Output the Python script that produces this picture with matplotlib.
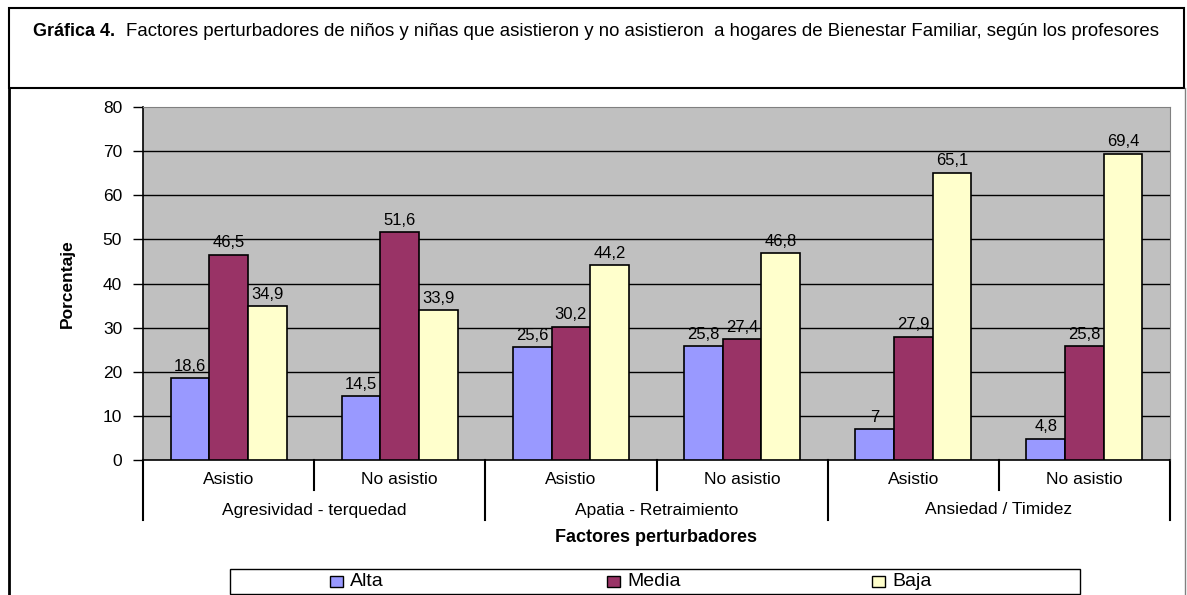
import matplotlib.pyplot as plt
from matplotlib.patches import Rectangle
from matplotlib.lines import Line2D

plt.rcParams['font.family'] = ['Liberation Sans', 'DejaVu Sans']

# data
groups = ['Agresividad - terquedad', 'Apatia - Retraimiento', 'Ansiedad / Timidez']
subcats = ['Asistio', 'No asistio', 'Asistio', 'No asistio', 'Asistio', 'No asistio']
series = ['Alta', 'Media', 'Baja']
alta = [18.6, 14.5, 25.6, 25.8, 7, 4.8]
media = [46.5, 51.6, 30.2, 27.4, 27.9, 25.8]
baja = [34.9, 33.9, 44.2, 46.8, 65.1, 69.4]
colors = ['#9999FF', '#993366', '#FFFFCC']

W, H = 1187, 595
fig = plt.figure(figsize=(W / 100, H / 100), dpi=100)

def fx(px):
    return px / W

def fy(py):
    return 1 - py / H

# outer frame / title box
fig.add_artist(Rectangle((fx(9), fy(88)), fx(1175), 80 / H, transform=fig.transFigure,
                         fill=False, edgecolor='black', linewidth=1.5))
fig.add_artist(Line2D([fx(9), fx(9)], [fy(88), 0], transform=fig.transFigure,
                      color='black', linewidth=2))
fig.add_artist(Line2D([fx(1185), fx(1185)], [fy(88), 0], transform=fig.transFigure,
                      color='#808080', linewidth=1))
fig.text(fx(33), fy(32), 'Gráfica 4.', fontsize=13, fontweight='bold', va='center', ha='left')
fig.text(fx(126), fy(32),
         'Factores perturbadores de niños y niñas que asistieron y no asistieron  a hogares '
         'de Bienestar Familiar, según los profesores',
         fontsize=13.4, va='center', ha='left')

ax = fig.add_axes([fx(143), fy(460), fx(1170 - 143), (460 - 107) / H])
ax.set_facecolor('#C0C0C0')

w = 0.226
x = list(range(len(subcats)))
for k, (vals, c) in enumerate(zip([alta, media, baja], colors)):
    xs = [i + (k - 1) * w for i in x]
    ax.bar(xs, vals, width=w, color=c, edgecolor='black', linewidth=1.2, zorder=3)
    for xi, v in zip(xs, vals):
        ax.text(xi, v + 1.0, f'{v:g}'.replace('.', ','), ha='center', va='bottom',
                fontsize=12, zorder=4)

ax.set_xlim(-0.5, len(subcats) - 0.5)
ax.set_ylim(0, 80)
ax.set_yticks(range(0, 81, 10))
for yv in range(10, 80, 10):
    ax.axhline(yv, color='black', linewidth=1, zorder=1)
ax.tick_params(axis='y', direction='out', length=7, width=1, labelsize=12.5, pad=8)
ax.set_xticks([])
for s in ['top', 'right']:
    ax.spines[s].set_color('#808080')
for s in ['left', 'bottom']:
    ax.spines[s].set_color('black')
    ax.spines[s].set_linewidth(1.2)

ax.set_ylabel('Porcentaje', family=['Liberation Sans Narrow', 'Liberation Sans'],
              fontweight='bold', fontsize=12.5, labelpad=20)

# category axis labels
tr = ax.get_xaxis_transform()
ah = 460 - 107
for i, lab in enumerate(subcats):
    ax.text(i, -20 / ah, lab, transform=tr, ha='center', va='center', fontsize=12.5)
for g, lab in enumerate(groups):
    ax.text(2 * g + 0.5, -50 / ah, lab, transform=tr, ha='center', va='center', fontsize=12.5)
for i in range(len(subcats) + 1):
    bottom = -60 / ah if i % 2 == 0 else -30 / ah
    ax.plot([i - 0.5, i - 0.5], [0, bottom], transform=tr, color='black',
            linewidth=1.5, clip_on=False)

fig.text(fx(656), fy(537), 'Factores perturbadores', fontsize=13, fontweight='bold',
         ha='center', va='center')

# legend box
fig.add_artist(Rectangle((fx(230), fy(594)), fx(850), 25 / H, transform=fig.transFigure,
                         fill=True, facecolor='white', edgecolor='black', linewidth=1))
for px, lab, c in zip([330, 607, 872], series, colors):
    fig.add_artist(Rectangle((fx(px), fy(587)), fx(13), 11 / H, transform=fig.transFigure,
                             facecolor=c, edgecolor='black', linewidth=1))
    fig.text(fx(px + 20), fy(581), lab, fontsize=14, ha='left', va='center')

fig.savefig('out.png', dpi=100)
